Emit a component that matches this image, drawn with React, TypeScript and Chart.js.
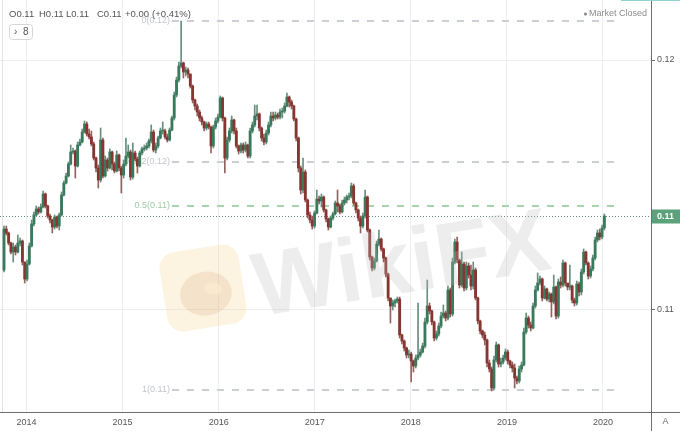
import React, { useEffect, useRef } from 'react';
import { Chart, registerables } from 'chart.js';

Chart.register(...registerables);

// ---- axis ticks ----
const yearTicks = [2014, 2015, 2016, 2017, 2018, 2019, 2020];
const yearLabels = ['2014', '2015', '2016', '2017', '2018', '2019', '2020'];
const priceTicks = [0.115, 0.12];
const priceTickLabels = ['0.11', '0.12'];
const xMin = 2013.7242;
const xMax = 2020.4998;
const yMin = 0.11296;
const yMax = 0.1212;

// ---- candles (time of first candle + spacing in years) ----
const firstCandleTime = 2013.766;
const candleStep = 0.02394;
const firstOpen = 0.1158;

const closes = [
  0.11662, 0.11654, 0.11634, 0.11616, 0.11626, 0.11616, 0.11634, 0.11638, 0.11596, 0.11562,
  0.11592, 0.11628, 0.11672, 0.1169, 0.11702, 0.11696, 0.11706, 0.11732, 0.11708, 0.11688,
  0.1168, 0.11666, 0.11686, 0.11668, 0.1169, 0.1173, 0.11754, 0.11768, 0.11792, 0.11816,
  0.11818, 0.11788, 0.1183, 0.11836, 0.11856, 0.11872, 0.11852, 0.11846, 0.11832, 0.11804,
  0.11784, 0.1176, 0.1184, 0.11768, 0.118, 0.11784, 0.11816, 0.11792, 0.11778, 0.1181,
  0.11784, 0.1177, 0.11792, 0.11808, 0.11816, 0.11766, 0.11814, 0.11802, 0.11788, 0.11814,
  0.11822, 0.11824, 0.11828, 0.11838, 0.11856, 0.1182, 0.11828, 0.11844, 0.11858, 0.11858,
  0.11846, 0.1184, 0.1186, 0.11884, 0.1193, 0.1196, 0.11988, 0.11994, 0.11976, 0.1198,
  0.11972, 0.11948, 0.1192, 0.11908, 0.11896, 0.11884, 0.11876, 0.11864, 0.11872, 0.11866,
  0.11828, 0.11866, 0.11878, 0.11886, 0.11924, 0.11884, 0.11804, 0.1184, 0.11858, 0.1188,
  0.11858, 0.11828, 0.11818, 0.1183, 0.1182, 0.1183, 0.11808, 0.11858, 0.1187, 0.11888,
  0.11892, 0.11864, 0.11844, 0.11836, 0.11854, 0.1187, 0.11888, 0.11884, 0.1189, 0.11886,
  0.11896, 0.11898, 0.11908, 0.11926, 0.11916, 0.11908, 0.11882, 0.11844, 0.11784, 0.1174,
  0.11776, 0.1172, 0.1169, 0.1168, 0.11668, 0.11694, 0.11722, 0.11718, 0.11726, 0.117,
  0.11682, 0.11666, 0.11684, 0.11692, 0.11714, 0.11708, 0.11696, 0.11714, 0.1172, 0.11726,
  0.11728, 0.11748, 0.11714, 0.117, 0.11684, 0.11668, 0.11688, 0.11726, 0.1166, 0.11606,
  0.11584, 0.11598, 0.11632, 0.11642, 0.11622, 0.11604, 0.11572, 0.11524, 0.11508, 0.11514,
  0.11518, 0.11522, 0.1145, 0.11438, 0.11424, 0.1141, 0.11412, 0.11398, 0.11388, 0.11404,
  0.1141, 0.11416, 0.11428, 0.11476, 0.11508, 0.11498, 0.11476, 0.11444, 0.11452, 0.11468,
  0.11488, 0.11494, 0.11484, 0.1154, 0.11492, 0.11596, 0.11636, 0.116, 0.1155, 0.11592,
  0.11544, 0.11588, 0.1157, 0.11548, 0.1158, 0.11524, 0.11478, 0.11458, 0.1145, 0.1144,
  0.11394, 0.11382, 0.11344, 0.114, 0.1143, 0.11392, 0.11396, 0.11404, 0.11416, 0.11398,
  0.1139, 0.11384, 0.11364, 0.11358, 0.11382, 0.1139, 0.11456, 0.11484, 0.1147, 0.11464,
  0.11508, 0.1154, 0.11554, 0.11562, 0.11524, 0.11542, 0.11522, 0.11532, 0.11516, 0.11546,
  0.11488, 0.11556, 0.1155, 0.11594, 0.11554, 0.11546, 0.11548, 0.1152, 0.11514, 0.11552,
  0.11536, 0.11576, 0.11616, 0.11594, 0.11568, 0.11582, 0.11604, 0.1164, 0.11654, 0.11646,
  0.11664, 0.11688,
];

const highs = [
  0.11668, 0.11668, 0.11656, 0.11636, 0.11634, 0.1163, 0.1165, 0.11644, 0.1164, 0.11596,
  0.116, 0.11634, 0.1168, 0.11696, 0.11708, 0.11706, 0.11712, 0.11738, 0.11734, 0.1171,
  0.11692, 0.11682, 0.1169, 0.11688, 0.11694, 0.11736, 0.11758, 0.11774, 0.11796, 0.1183,
  0.11824, 0.1182, 0.11836, 0.11842, 0.11862, 0.11878, 0.11876, 0.11862, 0.11858, 0.11836,
  0.11806, 0.1179, 0.11864, 0.11844, 0.11808, 0.11804, 0.11822, 0.11818, 0.11796, 0.11818,
  0.11812, 0.11788, 0.118, 0.11844, 0.1183, 0.1182, 0.11834, 0.11818, 0.11806, 0.11818,
  0.11826, 0.1183, 0.11834, 0.11842, 0.1187, 0.1186, 0.11834, 0.11848, 0.11864, 0.11876,
  0.11862, 0.11852, 0.11864, 0.11888, 0.11936, 0.11966, 0.11996, 0.12078, 0.11996, 0.11986,
  0.11984, 0.11972, 0.1195, 0.11922, 0.11912, 0.119, 0.11888, 0.11878, 0.11876, 0.11876,
  0.11868, 0.1187, 0.11884, 0.11892, 0.11928, 0.11926, 0.11886, 0.11846, 0.11864, 0.11888,
  0.11882, 0.11864, 0.1183, 0.11834, 0.11834, 0.11836, 0.11832, 0.11864, 0.11876, 0.1191,
  0.1191, 0.11894, 0.11866, 0.11852, 0.1186, 0.11876, 0.11896, 0.11896, 0.11896, 0.11894,
  0.11902, 0.11904, 0.11914, 0.11934, 0.11928, 0.1192, 0.1191, 0.11884, 0.11846, 0.11788,
  0.11804, 0.1178, 0.11722, 0.11696, 0.11688, 0.11698, 0.1174, 0.11728, 0.11732, 0.11728,
  0.11702, 0.11684, 0.11688, 0.11696, 0.11718, 0.1174, 0.11712, 0.1172, 0.11726, 0.1173,
  0.11734, 0.11754, 0.11752, 0.11716, 0.11702, 0.11688, 0.11694, 0.1174, 0.11728, 0.11662,
  0.11608, 0.11604, 0.11638, 0.1166, 0.11644, 0.11624, 0.11606, 0.11574, 0.11524, 0.1152,
  0.11522, 0.11526, 0.11526, 0.11452, 0.1144, 0.11426, 0.1142, 0.11416, 0.114, 0.1141,
  0.11514, 0.11422, 0.11434, 0.11484, 0.1156, 0.11514, 0.115, 0.11478, 0.11458, 0.11474,
  0.11496, 0.1151, 0.11498, 0.11548, 0.11544, 0.11604, 0.11642, 0.11646, 0.11602, 0.11616,
  0.11596, 0.11596, 0.11594, 0.1159, 0.11596, 0.11584, 0.11526, 0.1148, 0.1146, 0.11456,
  0.11442, 0.114, 0.11386, 0.11408, 0.11436, 0.11432, 0.11404, 0.1141, 0.11422, 0.1142,
  0.114, 0.11396, 0.11392, 0.11368, 0.11388, 0.11396, 0.11464, 0.11494, 0.11488, 0.11476,
  0.11514, 0.11548, 0.11574, 0.11568, 0.11564, 0.11548, 0.11544, 0.11536, 0.11534, 0.1157,
  0.11548, 0.11562, 0.11566, 0.116, 0.11596, 0.11552, 0.1159, 0.1155, 0.11524, 0.11558,
  0.11556, 0.11582, 0.11622, 0.11618, 0.11596, 0.11588, 0.1161, 0.11646, 0.1166, 0.11662,
  0.1167, 0.11692,
];

const lows = [
  0.11576, 0.1165, 0.1163, 0.11612, 0.11596, 0.1161, 0.11614, 0.11628, 0.1159, 0.11554,
  0.11558, 0.1159, 0.11626, 0.11668, 0.11688, 0.11692, 0.11694, 0.11704, 0.11704, 0.11684,
  0.11674, 0.11654, 0.11662, 0.11664, 0.1166, 0.11688, 0.11728, 0.11752, 0.11766, 0.1179,
  0.11812, 0.11764, 0.11786, 0.11828, 0.11834, 0.11854, 0.11848, 0.11842, 0.11828, 0.118,
  0.11776, 0.11744, 0.11756, 0.11764, 0.11766, 0.11778, 0.11782, 0.1178, 0.11774, 0.11776,
  0.11778, 0.11734, 0.11764, 0.11788, 0.11804, 0.1176, 0.11762, 0.11798, 0.11774, 0.11786,
  0.1181, 0.11818, 0.1182, 0.11824, 0.11834, 0.11816, 0.11814, 0.11824, 0.11842, 0.11852,
  0.11842, 0.11836, 0.11838, 0.11858, 0.1188, 0.11926, 0.11956, 0.11984, 0.11964, 0.11968,
  0.11964, 0.11944, 0.11914, 0.119, 0.11888, 0.11878, 0.1187, 0.11858, 0.1186, 0.11862,
  0.11814, 0.11824, 0.11862, 0.11874, 0.11884, 0.11878, 0.11774, 0.118, 0.11836, 0.11854,
  0.11852, 0.11824, 0.11812, 0.11814, 0.11814, 0.11816, 0.11804, 0.11804, 0.11854, 0.11866,
  0.1188, 0.11858, 0.11838, 0.1183, 0.11832, 0.1185, 0.11866, 0.11878, 0.1188, 0.11882,
  0.11882, 0.11884, 0.11894, 0.11906, 0.11906, 0.11902, 0.11878, 0.11838, 0.11776, 0.11732,
  0.11734, 0.11716, 0.11684, 0.11674, 0.11662, 0.11664, 0.11692, 0.11712, 0.11706, 0.11696,
  0.11676, 0.1166, 0.11664, 0.1168, 0.1169, 0.11696, 0.11692, 0.11694, 0.1171, 0.11714,
  0.1172, 0.11724, 0.1171, 0.11694, 0.11678, 0.11654, 0.11664, 0.11684, 0.11656, 0.116,
  0.11578, 0.1158, 0.11596, 0.11628, 0.11618, 0.11596, 0.11566, 0.11518, 0.11474, 0.115,
  0.11506, 0.11514, 0.11444, 0.11432, 0.11418, 0.11404, 0.11404, 0.11356, 0.11376, 0.11384,
  0.114, 0.11406, 0.11414, 0.11424, 0.11472, 0.11492, 0.1147, 0.11438, 0.1144, 0.11448,
  0.11464, 0.11484, 0.11478, 0.1148, 0.11486, 0.11488, 0.11592, 0.11594, 0.11544, 0.11546,
  0.11538, 0.1154, 0.11564, 0.1154, 0.11542, 0.1152, 0.11472, 0.11452, 0.11444, 0.1143,
  0.11386, 0.11376, 0.11338, 0.1134, 0.11396, 0.11386, 0.11386, 0.11392, 0.114, 0.11392,
  0.11384, 0.11376, 0.11344, 0.11352, 0.11354, 0.11376, 0.11388, 0.11452, 0.11464, 0.11458,
  0.11462, 0.11504, 0.11538, 0.1155, 0.11518, 0.11522, 0.11518, 0.11516, 0.11486, 0.11512,
  0.11482, 0.11484, 0.11544, 0.11546, 0.11548, 0.1154, 0.1154, 0.11514, 0.11508, 0.1151,
  0.11528, 0.1153, 0.11572, 0.1159, 0.11562, 0.11564, 0.11578, 0.116, 0.11636, 0.1164,
  0.11642, 0.1166,
];

// ---- Fibonacci retracement ----
const fibHigh = 0.12078;
const fibLow = 0.1134;
const fibLevels = [0, 0.382, 0.5, 1];
const fibLabels = ['0(0.12)', '0.382(0.12)', '0.5(0.11)', '1(0.11)'];
const fibStart = 2015.514;
const fibEnd = 2020.178;

// ---- texts ----
const headerParts = ['O0.11', 'H0.11', 'L0.11', 'C0.11', '+0.00', '(+0.41%)'];
const lastPriceLabel = '0.11';
const intervalLabel = '8';
const statusLabel = 'Market Closed';
const watermarkText = 'WikiFX';
const cornerLabel = 'A';

const UP = '#3a7a5c';
const DOWN = '#873530';
const FONT = '"Liberation Sans", Arial, sans-serif';

const zeroPadding = (axis: any) => {
  axis.paddingTop = 0;
  axis.paddingBottom = 0;
  axis.paddingLeft = 0;
  axis.paddingRight = 0;
};

export default function App() {
  const ref = useRef<HTMLCanvasElement | null>(null);

  useEffect(() => {
    document.body.style.margin = '0';
    const canvas = ref.current;
    if (!canvas) return;

    const times = closes.map((_, i) => firstCandleTime + i * candleStep);
    const opens = [firstOpen, ...closes.slice(0, -1)];
    const bodies = closes.map((c, i) => ({ x: times[i], y: [opens[i], c] }));
    const wicks = closes.map((_, i) => ({ x: times[i], y: [lows[i], highs[i]] }));
    const isUp = (i: number) => closes[i] >= opens[i];

    const overlay = {
      id: 'overlay',
      beforeDatasetsDraw(chart: any) {
        const { ctx, chartArea: a, scales } = chart;
        const xs = scales.x;
        const ys = scales.y;
        ctx.save();
        // left panel border
        ctx.strokeStyle = '#e2e4e8';
        ctx.lineWidth = 1;
        ctx.beginPath();
        ctx.moveTo(2.5, a.top);
        ctx.lineTo(2.5, a.bottom);
        ctx.stroke();

        // last price dotted line
        const py = Math.round(ys.getPixelForValue(closes[closes.length - 1])) + 0.5;
        ctx.strokeStyle = '#6f8f7e';
        ctx.setLineDash([1, 2]);
        ctx.beginPath();
        ctx.moveTo(a.left, py);
        ctx.lineTo(a.right, py);
        ctx.stroke();

        // fib levels
        const x1 = xs.getPixelForValue(fibStart);
        const x2 = xs.getPixelForValue(fibEnd);
        ctx.font = `9px ${FONT}`;
        ctx.textAlign = 'right';
        ctx.textBaseline = 'middle';
        fibLevels.forEach((lv, i) => {
          const yy = Math.round(ys.getPixelForValue(fibHigh - lv * (fibHigh - fibLow)));
          const green = lv === 0.5;
          ctx.strokeStyle = green ? '#a6d5ab' : '#cbced4';
          ctx.lineWidth = 2;
          ctx.setLineDash([7, 8]);
          ctx.beginPath();
          ctx.moveTo(x1, yy);
          ctx.lineTo(x2, yy);
          ctx.stroke();
          ctx.fillStyle = green ? '#9ccda2' : '#c3c5cb';
          ctx.fillText(fibLabels[i], x1 - 2, yy);
        });
        ctx.setLineDash([]);

        // watermark logo
        ctx.save();
        ctx.translate(203, 288);
        ctx.rotate(-0.16);
        ctx.fillStyle = 'rgba(248, 206, 130, 0.24)';
        const s = 80;
        const r = 16;
        ctx.beginPath();
        ctx.moveTo(-s / 2 + r, -s / 2);
        ctx.arcTo(s / 2, -s / 2, s / 2, s / 2, r);
        ctx.arcTo(s / 2, s / 2, -s / 2, s / 2, r);
        ctx.arcTo(-s / 2, s / 2, -s / 2, -s / 2, r);
        ctx.arcTo(-s / 2, -s / 2, s / 2, -s / 2, r);
        ctx.closePath();
        ctx.fill();
        ctx.fillStyle = 'rgba(215, 175, 130, 0.25)';
        ctx.beginPath();
        ctx.ellipse(2, 6, 26, 22, 0, 0, Math.PI * 2);
        ctx.fill();
        ctx.fillStyle = 'rgba(250, 236, 210, 0.6)';
        ctx.beginPath();
        ctx.ellipse(10, 2, 9, 6, 0.3, 0, Math.PI * 2);
        ctx.fill();
        ctx.restore();

        ctx.restore();
      },
      afterDatasetsDraw(chart: any) {
        const { ctx } = chart;
        ctx.save();
        ctx.translate(402, 268);
        ctx.rotate(-0.16);
        ctx.font = `bold 90px ${FONT}`;
        ctx.fillStyle = 'rgba(190, 190, 190, 0.28)';
        ctx.textAlign = 'center';
        ctx.textBaseline = 'middle';
        ctx.fillText(watermarkText, 0, 0);
        ctx.restore();
      },
      afterDraw(chart: any) {
        const { ctx, chartArea: a, scales, width, height } = chart;
        const ys = scales.y;
        ctx.save();
        // axis borders
        ctx.strokeStyle = '#6e6e6e';
        ctx.lineWidth = 1;
        ctx.beginPath();
        ctx.moveTo(0, a.bottom + 0.5);
        ctx.lineTo(width, a.bottom + 0.5);
        ctx.moveTo(a.right + 0.5, 0);
        ctx.lineTo(a.right + 0.5, height);
        ctx.stroke();
        // teal top line
        ctx.strokeStyle = '#8fd3d3';
        ctx.beginPath();
        ctx.moveTo(621, 0.5);
        ctx.lineTo(width, 0.5);
        ctx.stroke();

        // last price tag
        const py = Math.round(ys.getPixelForValue(closes[closes.length - 1])) + 0.5;
        ctx.fillStyle = '#5ba27a';
        ctx.fillRect(a.right + 1, py - 7, width - a.right - 1, 14);
        ctx.fillStyle = '#ffffff';
        ctx.font = `bold 9px ${FONT}`;
        ctx.textAlign = 'left';
        ctx.textBaseline = 'middle';
        ctx.fillText(lastPriceLabel, a.right + 6, py);

        // corner label
        ctx.fillStyle = '#707070';
        ctx.font = `9px ${FONT}`;
        ctx.textAlign = 'center';
        ctx.fillText(cornerLabel, a.right + 14.5, a.bottom + 10);

        // header legend
        ctx.fillStyle = '#555555';
        ctx.font = `9.5px ${FONT}`;
        ctx.textAlign = 'left';
        const hx = [9, 39, 66, 97, 125, 152];
        headerParts.forEach((t, i) => ctx.fillText(t, hx[i], 14));

        // interval box
        ctx.fillStyle = '#ffffff';
        ctx.strokeStyle = '#d5d7db';
        ctx.beginPath();
        const bx = 9.5, by = 24.5, bw = 23, bh = 15, br = 3;
        ctx.moveTo(bx + br, by);
        ctx.arcTo(bx + bw, by, bx + bw, by + bh, br);
        ctx.arcTo(bx + bw, by + bh, bx, by + bh, br);
        ctx.arcTo(bx, by + bh, bx, by, br);
        ctx.arcTo(bx, by, bx + bw, by, br);
        ctx.closePath();
        ctx.fill();
        ctx.stroke();
        ctx.fillStyle = '#555555';
        ctx.font = `10px ${FONT}`;
        ctx.fillText('\u203A', 14, 32);
        ctx.fillText(intervalLabel, 23, 32);

        // market status
        ctx.fillStyle = '#8a8a8a';
        ctx.beginPath();
        ctx.arc(585.5, 14, 1.6, 0, Math.PI * 2);
        ctx.fill();
        ctx.font = `9px ${FONT}`;
        ctx.fillText(statusLabel, 589, 14);
        ctx.restore();
      },
    };

    const chart = new Chart(canvas, {
      type: 'bar',
      data: {
        datasets: [
          {
            label: 'body',
            data: bodies as any,
            backgroundColor: (c: any) => (isUp(c.dataIndex) ? UP : DOWN),
            barThickness: 2.2,
            minBarLength: 1,
            grouped: false,
            borderWidth: 0,
            order: 0,
          } as any,
          {
            label: 'wick',
            data: wicks as any,
            backgroundColor: (c: any) => (isUp(c.dataIndex) ? '#678f7c' : '#94625e'),
            barThickness: 1,
            grouped: false,
            borderWidth: 0,
            order: 1,
          } as any,
        ],
      },
      options: {
        animation: false,
        responsive: false,
        devicePixelRatio: 1,
        events: [],
        layout: { padding: 0 },
        plugins: { legend: { display: false }, tooltip: { enabled: false } },
        scales: {
          x: {
            type: 'linear',
            min: xMin,
            max: xMax,
            offset: false,
            afterBuildTicks: (axis: any) => {
              axis.ticks = yearTicks.map((v) => ({ value: v }));
            },
            afterFit: (axis: any) => {
              axis.height = 19;
              zeroPadding(axis);
            },
            ticks: {
              autoSkip: false,
              maxRotation: 0,
              padding: 5,
              color: '#555555',
              font: { family: FONT, size: 9 },
              callback: (_v: any, i: number) => yearLabels[i],
            },
            grid: { color: '#eceef2', drawTicks: false, offset: false },
            border: { display: false },
          } as any,
          y: {
            type: 'linear',
            position: 'right',
            min: yMin,
            max: yMax,
            afterBuildTicks: (axis: any) => {
              axis.ticks = priceTicks.map((v) => ({ value: v }));
            },
            afterFit: (axis: any) => {
              axis.width = 29;
              zeroPadding(axis);
            },
            ticks: {
              padding: 2,
              color: '#555555',
              font: { family: FONT, size: 9 },
              callback: (_v: any, i: number) => priceTickLabels[i],
            },
            grid: { color: '#eceef2', tickLength: 4, tickColor: '#6e6e6e' },
            border: { display: false },
          } as any,
        },
      } as any,
      plugins: [overlay],
    });

    return () => chart.destroy();
  }, []);

  return <canvas ref={ref} width={680} height={431} style={{ display: 'block' }} />;
}
